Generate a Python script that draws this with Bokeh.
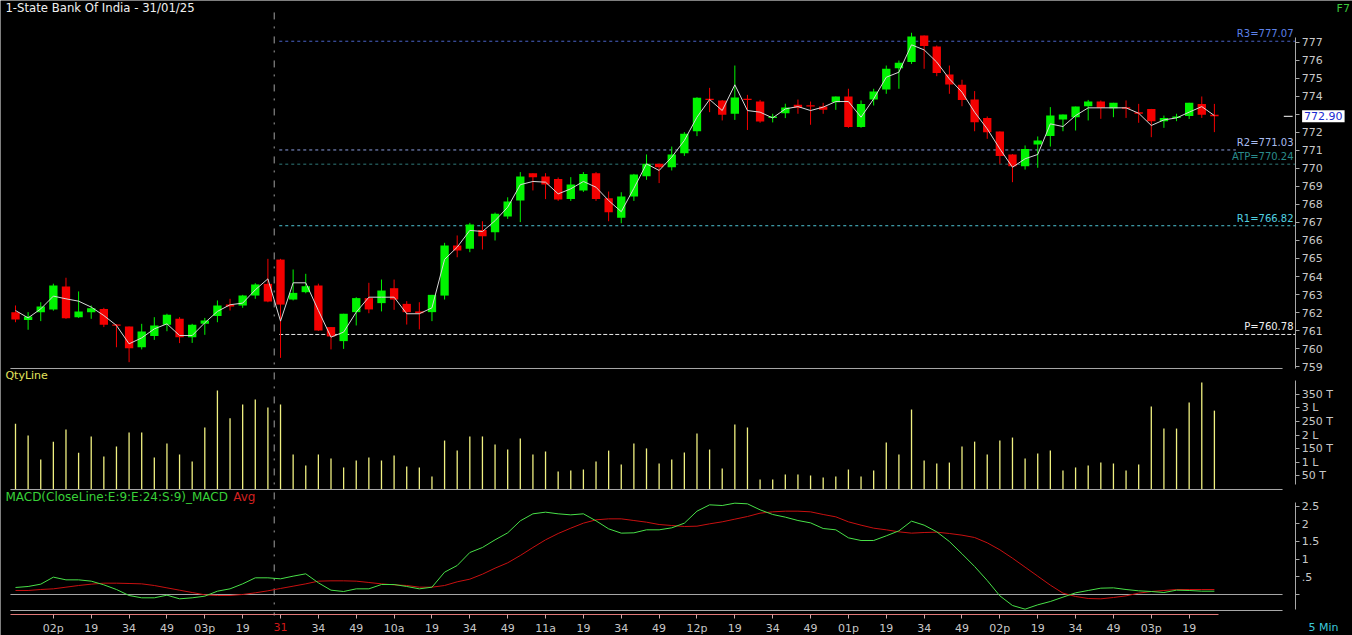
from bokeh.plotting import figure
from bokeh.models import Range1d, FixedTicker, Label, ColumnDataSource, LinearAxis
from bokeh.embed import file_html
from bokeh.resources import INLINE
from bokeh.core.properties import value

FONT = "DejaVu Sans"

# ---------------- data ----------------
title_text = "1-State Bank Of India - 31/01/25"
day_start = 21          # first candle of 31/01
last_price = 772.90

opens = [762.02, 761.59, 762.02, 762.17, 763.44, 761.74, 762.02, 762.20, 761.34, 761.22,
         760.07, 760.69, 761.32, 761.65, 760.63, 761.37, 761.80, 762.44, 762.39, 762.94,
         763.59, 764.94, 762.72, 763.13, 763.50, 761.19, 760.41, 762.02, 762.80, 762.52,
         763.35, 762.48, 762.06, 762.02, 762.94, 765.72, 765.54, 766.59, 766.46, 767.33,
         768.22, 769.74, 769.56, 769.41, 768.30, 768.78, 769.74, 768.35, 767.26, 768.44,
         769.57, 770.26, 770.07, 770.85, 772.07, 773.88, 773.78, 773.04, 773.88, 773.72,
         772.80, 773.07, 773.54, 773.52, 773.44, 773.68, 774.00, 772.30, 773.83, 774.39,
         775.57, 775.91, 777.39, 776.78, 775.22, 774.65, 773.83, 772.81, 772.06, 770.78,
         770.13, 771.33, 771.80, 772.72, 772.85, 773.46, 773.72, 773.35, 773.40, 773.12,
         773.31, 772.63, 772.80, 772.91, 773.59, 772.98]
highs = [762.39, 762.02, 762.57, 763.60, 763.93, 763.17, 762.39, 762.26, 761.36, 761.22,
         761.37, 761.74, 761.93, 761.74, 761.37, 761.70, 762.67, 762.76, 762.98, 763.63,
         764.98, 764.98, 764.39, 764.15, 763.60, 761.19, 761.93, 762.85, 763.65, 763.83,
         763.83, 762.63, 762.57, 762.98, 765.87, 766.28, 766.98, 767.07, 767.55, 768.40,
         769.80, 769.74, 769.74, 769.50, 769.52, 769.80, 769.80, 768.72, 768.68, 769.70,
         770.78, 770.26, 771.22, 772.02, 773.96, 774.48, 773.80, 775.72, 774.09, 773.81,
         773.04, 773.60, 773.83, 773.72, 773.65, 774.00, 774.43, 773.78, 774.43, 775.72,
         776.00, 777.54, 777.39, 776.83, 775.72, 774.93, 774.30, 772.89, 772.06, 770.80,
         771.28, 771.78, 773.41, 773.00, 773.44, 773.81, 773.78, 773.65, 773.78, 773.59,
         773.31, 772.94, 773.04, 773.65, 774.00, 773.59]
lows = [761.46, 761.04, 761.52, 762.10, 761.65, 761.70, 761.65, 761.19, 760.07, 759.24,
        759.95, 760.48, 760.96, 760.30, 760.31, 760.76, 761.46, 762.11, 762.26, 762.76,
        762.57, 759.48, 762.67, 763.07, 760.98, 759.95, 759.98, 761.28, 761.96, 762.06,
        762.15, 761.33, 761.06, 761.52, 762.72, 765.07, 765.35, 765.50, 766.00, 767.20,
        767.02, 768.78, 768.30, 768.20, 768.20, 768.70, 768.20, 767.07, 766.96, 768.20,
        769.37, 769.19, 769.89, 770.70, 771.80, 773.13, 772.67, 772.70, 772.14, 772.54,
        772.56, 772.80, 773.04, 772.43, 773.04, 773.26, 772.26, 772.26, 773.50, 774.15,
        774.43, 775.81, 775.54, 775.13, 774.15, 773.46, 772.07, 771.65, 770.26, 769.24,
        769.94, 770.04, 771.22, 772.07, 772.11, 772.67, 772.76, 772.85, 772.81, 772.54,
        771.74, 772.26, 772.63, 772.75, 772.81, 772.02]
closes = [761.61, 761.78, 762.33, 763.50, 761.68, 762.06, 762.24, 761.32, 761.26, 760.02,
          760.94, 761.28, 761.87, 760.63, 761.32, 761.56, 762.39, 762.33, 762.94, 763.56,
          762.61, 762.44, 763.09, 763.46, 761.00, 760.67, 761.93, 762.80, 762.17, 763.22,
          762.72, 762.02, 761.96, 762.98, 765.72, 765.44, 766.89, 766.24, 767.48, 768.17,
          769.56, 769.52, 769.11, 768.28, 769.11, 769.70, 768.31, 767.57, 768.44, 769.67,
          770.26, 770.07, 770.78, 771.93, 773.93, 773.80, 772.98, 773.94, 773.80, 772.61,
          772.89, 773.39, 773.37, 773.44, 773.26, 774.00, 772.30, 773.59, 774.28, 775.54,
          775.87, 777.33, 776.80, 775.30, 774.67, 773.81, 772.57, 772.02, 770.69, 770.13,
          771.09, 771.56, 772.94, 773.00, 773.44, 773.72, 773.37, 773.65, 773.32, 773.04,
          772.63, 772.81, 772.89, 773.65, 772.98, 772.90]
tick_line = [762.11, 761.70, 762.20, 762.91, 762.76, 762.63, 762.30, 761.83, 761.28, 760.26,
             760.59, 761.09, 761.37, 760.72, 760.72, 761.43, 762.06, 762.43, 762.52, 763.26,
             763.87, 761.52, 763.65, 763.65, 762.11, 760.63, 760.91, 762.02, 762.85, 762.85,
             762.85, 761.93, 761.93, 762.26, 764.95, 765.63, 766.56, 766.50, 767.10, 767.85,
             769.10, 769.28, 769.24, 768.59, 768.87, 769.28, 768.96, 768.22, 767.60, 768.90,
             770.26, 769.89, 770.63, 771.56, 772.85, 773.83, 773.22, 774.65, 773.22, 773.13,
             772.81, 773.31, 773.44, 773.22, 773.41, 773.72, 773.72, 772.85, 773.87, 775.07,
             775.35, 776.87, 776.59, 775.91, 774.98, 774.24, 773.13, 772.20, 771.09, 770.07,
             770.54, 770.78, 772.48, 772.33, 772.94, 773.37, 773.37, 773.37, 773.37, 773.07,
             772.39, 772.70, 772.81, 773.13, 773.44, 772.94]
volumes = [241500, 198500, 110000, 176000, 220600, 134800, 195000, 121000, 158000, 209600,
           209600, 117600, 169000, 128700, 102900, 228000, 364000, 262000, 312500, 331000,
           301500, 312500, 128700, 88000, 128700, 114000, 81000, 106600, 117600, 106600,
           125000, 84600, 81000, 47800, 180000, 143000, 195000, 195000, 165000, 147000,
           187500, 128700, 139700, 66000, 70000, 73500, 103000, 143000, 92000, 169000,
           151000, 95600, 110000, 136000, 206000, 147000, 77000, 239000, 228000, 36800,
           36800, 55000, 55000, 51500, 44000, 48000, 73500, 48000, 70000, 173000,
           128700, 294000, 106600, 95600, 99000, 158000, 176000, 128700, 180000, 191000,
           114000, 132000, 143000, 70000, 81000, 88000, 99000, 95600, 70000, 92000,
           305000, 224000, 224000, 320000, 393000, 290000]
macd = [0.198, 0.226, 0.292, 0.490, 0.414, 0.414, 0.377, 0.273, 0.141, -0.028,
        -0.094, -0.094, -0.019, -0.122, -0.094, -0.047, 0.094, 0.160, 0.301, 0.471,
        0.471, 0.443, 0.518, 0.584, 0.330, 0.122, 0.085, 0.160, 0.160, 0.282,
        0.282, 0.226, 0.160, 0.207, 0.631, 0.819, 1.186, 1.328, 1.544, 1.742,
        2.081, 2.279, 2.326, 2.279, 2.250, 2.279, 2.081, 1.855, 1.733, 1.742,
        1.827, 1.827, 1.883, 2.015, 2.354, 2.533, 2.514, 2.580, 2.561, 2.392,
        2.260, 2.185, 2.090, 2.024, 1.864, 1.827, 1.601, 1.525, 1.525, 1.657,
        1.798, 2.072, 1.959, 1.770, 1.497, 1.149, 0.791, 0.395, -0.038, -0.311,
        -0.414, -0.292, -0.198, -0.075, 0.047, 0.113, 0.179, 0.188, 0.141, 0.104,
        0.085, 0.056, 0.122, 0.113, 0.094, 0.094]
macd_avg = [0.113, 0.113, 0.141, 0.160, 0.207, 0.254, 0.292, 0.320, 0.320, 0.311,
            0.301, 0.254, 0.188, 0.122, 0.056, -0.009, -0.028, -0.028, 0.000, 0.047,
            0.104, 0.170, 0.235, 0.301, 0.377, 0.386, 0.386, 0.377, 0.339, 0.301,
            0.273, 0.254, 0.207, 0.207, 0.254, 0.358, 0.433, 0.574, 0.744, 0.895,
            1.102, 1.328, 1.544, 1.723, 1.874, 2.015, 2.109, 2.137, 2.137, 2.090,
            2.043, 1.977, 1.949, 1.921, 1.930, 1.996, 2.053, 2.128, 2.203, 2.298,
            2.335, 2.354, 2.354, 2.335, 2.260, 2.194, 2.053, 1.959, 1.874, 1.827,
            1.770, 1.733, 1.751, 1.761, 1.723, 1.676, 1.610, 1.460, 1.262, 1.026,
            0.772, 0.518, 0.264, 0.038, -0.056, -0.113, -0.122, -0.085, -0.038, 0.038,
            0.085, 0.113, 0.141, 0.141, 0.141, 0.141]

pivot_names = ["R3", "R2", "ATP", "R1", "P"]
pivot_values = [777.07, 771.03, 770.24, 766.82, 760.78]

tick_idx = list(range(3, 96, 3))
tick_labels = ["02p", "19", "34", "49", "03p", "19", "31", "34", "49", "10a", "19",
               "34", "49", "11a", "19", "34", "49", "12p", "19", "34", "49", "01p",
               "19", "34", "49", "02p", "19", "34", "49", "03p", "19"]
day_label = "31"

vol_ticks = [50000, 100000, 150000, 200000, 250000, 300000, 350000]
vol_tick_labels = ["50 T", "1 L", "150 T", "2 L", "250 T", "3 L", "350 T"]
macd_ticks = [0, 0.5, 1, 1.5, 2, 2.5]
macd_tick_labels = ["", ".5", "1", "1.5", "2", "2.5"]
price_ticks = list(range(759, 778))

# ---------------- styles ----------------
BG = "#000000"
AX = "#a8a8a8"
TXT = "#c8c8c8"
UP = "#00f400"
DN = "#f40000"
DAYLINE = "#a0a0a0"
pivot_line_colors = ["#4a64c8", "#8c9ee0", "#2e7878", "#4cc4d4", "#e8e8e8"]
pivot_text_colors = ["#5c80e8", "#a8bcf0", "#2a8c8c", "#50d0e0", "#f0f0f0"]
pivot_dashes = ["3 3", "3 3", "3 3", "3 3", "4 2"]

N = len(closes)
idx = list(range(N))

# one frame covering the whole canvas; three stacked panels via separate y ranges
W, H = 1352, 635
xr = Range1d(-1.1886, 105.943)
yr_price = Range1d(744.0556, 779.3333)
yr_vol = Range1d(-536765, 1797794)
yr_macd = Range1d(-1.1582, 16.7797)

AXIS_X = 101.45          # x position of the right-hand scales
SEP_X0, SEP_X1 = -0.4, 100.4
PRICE_SEP = 758.889      # bottom edge of price panel
PRICE_TOP = 778.67
XAXIS_Y = 745.222        # price-units position of the time axis
MACD_BOTTOM = -0.452
PANEL_BOTTOM = 745.167

p = figure(width=W, height=H, x_range=xr, y_range=yr_price,
           output_backend="svg", toolbar_location=None,
           x_axis_location=None, y_axis_location=None,
           background_fill_color=BG, border_fill_color=BG,
           outline_line_color=None, min_border=0)
p.extra_y_ranges = {"vol": yr_vol, "macd": yr_macd}
p.xgrid.visible = False
p.ygrid.visible = False


def style_axis(ax):
    ax.axis_line_color = AX
    ax.major_tick_line_color = AX
    ax.minor_tick_line_color = None
    ax.major_tick_out = 4
    ax.major_tick_in = 0
    ax.major_label_text_color = TXT
    ax.major_label_text_font = FONT
    ax.major_label_text_font_size = "11px"
    ax.major_label_standoff = 2


ax_price = LinearAxis(fixed_location=AXIS_X, ticker=FixedTicker(ticks=price_ticks),
                      bounds=(758.9, 777.3), major_label_overrides={773: ""})
ax_vol = LinearAxis(y_range_name="vol", fixed_location=AXIS_X,
                    ticker=FixedTicker(ticks=vol_ticks), bounds=(18000, 400700),
                    major_label_overrides=dict(zip(vol_ticks, vol_tick_labels)))
ax_macd = LinearAxis(y_range_name="macd", fixed_location=AXIS_X,
                     ticker=FixedTicker(ticks=macd_ticks), bounds=(-0.42, 2.6),
                     major_label_overrides=dict(zip(macd_ticks, macd_tick_labels)))
for a in (ax_price, ax_vol, ax_macd):
    style_axis(a)
    p.add_layout(a, "right")

xax = LinearAxis(fixed_location=XAXIS_Y, ticker=FixedTicker(ticks=tick_idx),
                 bounds=(SEP_X0, N - 0.7),
                 major_label_overrides={t: ("" if t == day_start else lab)
                                        for t, lab in zip(tick_idx, tick_labels)})
style_axis(xax)
xax.axis_line_color = "#e07878"
xax.major_tick_line_color = "#d0a8a8"
xax.major_label_standoff = 3
p.add_layout(xax, "below")

# ---------------- price panel ----------------
src = ColumnDataSource(dict(
    x=idx, o=opens, h=highs, l=lows, c=closes,
    top=[max(a, b) for a, b in zip(opens, closes)],
    bot=[min(a, b) for a, b in zip(opens, closes)],
    color=[UP if c >= o else DN for o, c in zip(opens, closes)],
))

pv_x1 = [xr.end, N + 0.7, xr.end, xr.end, xr.end]
for v, x1, lc, dash in zip(pivot_values, pv_x1, pivot_line_colors, pivot_dashes):
    p.segment(x0=[day_start - 0.1], x1=[min(x1, AXIS_X)], y0=[v], y1=[v],
              line_color=lc, line_dash=dash, line_width=1)
p.text(x=[AXIS_X - 0.18] * len(pivot_values), y=pivot_values,
       text=[f"{n}={v:.2f}" for n, v in zip(pivot_names, pivot_values)],
       text_color=pivot_text_colors, text_align="right", text_baseline="bottom",
       text_font=value(FONT), text_font_size="10px", y_offset=-2)

# day separator through all panels
p.segment(x0=[day_start - 0.5], x1=[day_start - 0.5], y0=[PRICE_TOP], y1=[PANEL_BOTTOM],
          line_color=DAYLINE, line_dash="7 7 2 8", line_width=1)

p.segment(x0="x", y0="l", x1="x", y1="h", line_color="color", line_width=1, source=src)
p.vbar(x="x", width=0.66, top="top", bottom="bot", fill_color="color",
       line_color=None, source=src)
p.line(idx, tick_line, line_color="#d8d8d8", line_width=1)

p.segment(x0=[SEP_X0], x1=[SEP_X1], y0=[PRICE_SEP], y1=[PRICE_SEP], line_color=AX)

p.segment(x0=[N + 4.5], x1=[N + 5.2], y0=[last_price], y1=[last_price],
          line_color="white", line_width=1)
p.add_layout(Label(x=AXIS_X + 0.5, y=last_price, text=f"{last_price:.2f}",
                   text_color="#1c2bd0", background_fill_color="white",
                   text_font=FONT, text_font_size="11px", text_baseline="middle",
                   text_align="left", padding=2))
p.add_layout(Label(x=-0.8, y=778.9, text=title_text, text_color="#f0f0f0",
                   text_font=FONT, text_font_size="11.7px", text_baseline="middle"))
p.add_layout(Label(x=104.68, y=778.9, text="F7", text_color="#3cc83c",
                   text_font=FONT, text_font_size="11px", text_baseline="middle"))

# ---------------- volume panel ----------------
p.segment(x0=idx, x1=idx, y0=[0] * N, y1=volumes, line_color="#f0f080", line_width=1.3,
          y_range_name="vol")
p.segment(x0=[SEP_X0], x1=[SEP_X1], y0=[0], y1=[0], line_color=AX, y_range_name="vol")
p.add_layout(Label(x=-0.8, y=419100, y_range_name="vol", text="QtyLine",
                   text_color="#e4e45c", text_font=FONT, text_font_size="11px",
                   text_baseline="middle"))

# ---------------- MACD panel ----------------
p.segment(x0=[SEP_X0, SEP_X0], x1=[SEP_X1, SEP_X1], y0=[0, MACD_BOTTOM],
          y1=[0, MACD_BOTTOM], line_color=AX, y_range_name="macd")
p.line(idx, macd_avg, line_color="#c81010", line_width=1, y_range_name="macd")
p.line(idx, macd, line_color="#48e048", line_width=1, y_range_name="macd")
p.add_layout(Label(x=-0.8, y=2.768, y_range_name="macd",
                   text="MACD(CloseLine:E:9:E:24:S:9)_MACD", text_color="#38d038",
                   text_font=FONT, text_font_size="12px", text_baseline="middle"))
p.add_layout(Label(x=17.25, y=2.768, y_range_name="macd", text="Avg",
                   text_color="#d42020", text_font=FONT, text_font_size="12px",
                   text_baseline="middle"))
p.add_layout(Label(x=day_start, y=-0.932, y_range_name="macd", text=day_label,
                   text_color="#d01818", text_font=FONT, text_font_size="11px",
                   text_baseline="middle", text_align="center"))
p.add_layout(Label(x=102.46, y=-0.932, y_range_name="macd", text="5 Min",
                   text_color="#3cc8dc", text_font=FONT, text_font_size="11px",
                   text_baseline="middle"))

open("out.html", "w").write(file_html(p, INLINE))
